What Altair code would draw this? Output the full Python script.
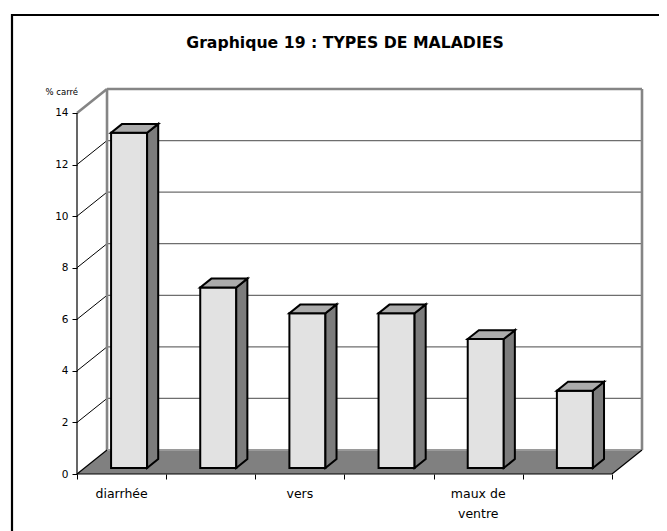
import altair as alt
import pandas as pd

# ---------------- data ----------------
categories = ["diarrhée", "", "vers", "", "maux de\nventre", ""]
values = [13, 7, 6, 6, 5, 3]
y_ticks = [0, 2, 4, 6, 8, 10, 12, 14]
grid_values = [2, 4, 6, 8, 10, 12]
title_text = "Graphique 19 : TYPES DE MALADIES"
y_title = "% carré"

# ---------------- 3-D styling constants ----------------
N = len(values)
YMAX = 14
DX = 30 / 89.1        # depth offset in category units
DY = 24 / 25.786      # depth offset in value units
T0, T1 = 0.25, 0.62   # bar depth (front / back) as fraction of full depth
BAR_L, BAR_R = 0.298, 0.702
W, H = 565, 385

xs = alt.Scale(domain=[0, N + DX], nice=False, zero=False)
ys = alt.Scale(domain=[0, YMAX + DY], nice=False, zero=False)

AX = alt.Axis(values=list(range(N + 1)), labels=False, domain=False, grid=False,
              ticks=True, tickColor="black", tickSize=5, tickWidth=1, title=None)
AY = alt.Axis(values=y_ticks, domain=False, grid=False, ticks=True,
              tickColor="black", tickSize=5, tickWidth=1,
              labelFont="DejaVu Sans", labelFontSize=10.5, labelColor="black",
              labelPadding=4, title=y_title, titleAngle=0, titleAlign="left",
              titleBaseline="middle", titleX=-32, titleY=2,
              titleFont="DejaVu Sans", titleFontSize=8.5,
              titleFontWeight="normal", titleColor="black")


def X(field="x"):
    return alt.X(f"{field}:Q", scale=xs, axis=AX)


def Y(field="y"):
    return alt.Y(f"{field}:Q", scale=ys, axis=AY)


def segs(rows):
    recs = []
    for sid, pts in enumerate(rows):
        for k, (x, y) in enumerate(pts):
            recs.append({"seg": sid, "k": k, "x": x, "y": y})
    return pd.DataFrame(recs)


# ---------------- back wall ----------------
wall = pd.DataFrame([{"x": DX, "x2": N + DX, "y": DY, "y2": YMAX + DY}])
back_wall = alt.Chart(wall).mark_rect(fill="white").encode(
    x=X(), x2="x2:Q", y=Y(), y2="y2:Q")

# ---------------- gridlines ----------------
diag = segs([[(0, v), (DX, v + DY)] for v in grid_values])
horiz = segs([[(DX, v + DY), (N + DX, v + DY)] for v in grid_values])
grid_diag = alt.Chart(diag).mark_line(color="black", strokeWidth=1).encode(
    x=X(), y=Y(), detail="seg:N", order="k:Q")
grid_h = alt.Chart(horiz).mark_line(color="#6e6e6e", strokeWidth=1.3).encode(
    x=X(), y=Y(), detail="seg:N", order="k:Q")

# ---------------- wall edges ----------------
wall_edges = segs([
    [(0, YMAX), (DX, YMAX + DY)],
    [(DX, YMAX + DY), (N + DX, YMAX + DY)],
    [(DX, DY), (DX, YMAX + DY)],
    [(N + DX, DY), (N + DX, YMAX + DY)],
])
edges = alt.Chart(wall_edges).mark_line(color="#858585", strokeWidth=2.6).encode(
    x=X(), y=Y(), detail="seg:N", order="k:Q")

# ---------------- floor ----------------
floor_df = pd.DataFrame([
    {"y": 0, "x": 0, "x2": N},
    {"y": DY, "x": DX, "x2": N + DX},
])
floor = alt.Chart(floor_df).mark_area(orient="horizontal", fill="#808080").encode(
    y=Y(), x=X(), x2="x2:Q")

back_edge = segs([[(DX, DY), (N + DX, DY)]])
floor_back = alt.Chart(back_edge).mark_line(color="#9a9a9a", strokeWidth=2).encode(
    x=X(), y=Y(), detail="seg:N", order="k:Q")

floor_lines = segs([
    [(0, 0), (DX, DY)],
    [(N, 0), (N + DX, DY)],
    [(0, 0), (N, 0)],
    [(0, 0), (0, YMAX)],
])
floor_edges = alt.Chart(floor_lines).mark_line(color="black", strokeWidth=1.2).encode(
    x=X(), y=Y(), detail="seg:N", order="k:Q")

# ---------------- bars ----------------
front_rows, side_rows, top_rows = [], [], []
ddx, ddy = (T1 - T0) * DX, (T1 - T0) * DY
for i, v in enumerate(values):
    xl = i + BAR_L + T0 * DX
    xr = i + BAR_R + T0 * DX
    yb = T0 * DY
    yt = v + T0 * DY
    front_rows.append({"bar": i, "x": xl, "x2": xr, "y": yb, "y2": yt})
    side_rows.append({"bar": i, "x": xr, "y": yb, "y2": yt})
    side_rows.append({"bar": i, "x": xr + ddx, "y": yb + ddy, "y2": yt + ddy})
    top_rows.append({"bar": i, "y": yt, "x": xl, "x2": xr})
    top_rows.append({"bar": i, "y": yt + ddy, "x": xl + ddx, "x2": xr + ddx})

front = alt.Chart(pd.DataFrame(front_rows)).mark_rect(
    fill="#e2e2e2", stroke="black", strokeWidth=2).encode(
    x=X(), x2="x2:Q", y=Y(), y2="y2:Q")
side = alt.Chart(pd.DataFrame(side_rows)).mark_area(
    fill="#7c7c7c", stroke="black", strokeWidth=2, strokeJoin="miter").encode(
    x=X(), y=Y(), y2="y2:Q", detail="bar:N")
top = alt.Chart(pd.DataFrame(top_rows)).mark_area(
    orient="horizontal", fill="#ababab", stroke="black", strokeWidth=2,
    strokeJoin="miter").encode(
    y=Y(), x=X(), x2="x2:Q", detail="bar:N")

# ---------------- category labels ----------------
lab = pd.DataFrame({"x": [i + 0.5 for i in range(N)], "y": [0] * N,
                    "label": categories})
labels = alt.Chart(lab).mark_text(
    font="DejaVu Sans", fontSize=12.5, color="black", align="center",
    baseline="alphabetic", dy=24, lineBreak="\n", lineHeight=20).encode(
    x=X(), y=Y(), text="label:N")

# ---------------- title & outer frame ----------------
title = alt.Chart(pd.DataFrame({"t": [title_text]})).mark_text(
    font="DejaVu Sans", fontSize=15.7, fontWeight="bold", color="black",
    align="center", baseline="alphabetic").encode(
    x=alt.value(268), y=alt.value(-41), text="t:N")

frame = alt.Chart(pd.DataFrame({"f": [0]})).mark_rect(
    fill="transparent", stroke="black", strokeWidth=2.2).encode(
    x=alt.value(-65), x2=alt.value(640), y=alt.value(-74), y2=alt.value(480))

chart = alt.layer(
    back_wall, grid_diag, grid_h, edges, floor, floor_back, floor_edges,
    front, side, top, labels, title, frame,
).properties(
    width=W, height=H,
    autosize=alt.AutoSizeParams(type="none"),
    padding={"left": 69, "top": 81, "right": 17, "bottom": 57},
).configure_view(strokeWidth=0)

chart.save("out.html", embed_options={"renderer": "svg", "actions": False})
